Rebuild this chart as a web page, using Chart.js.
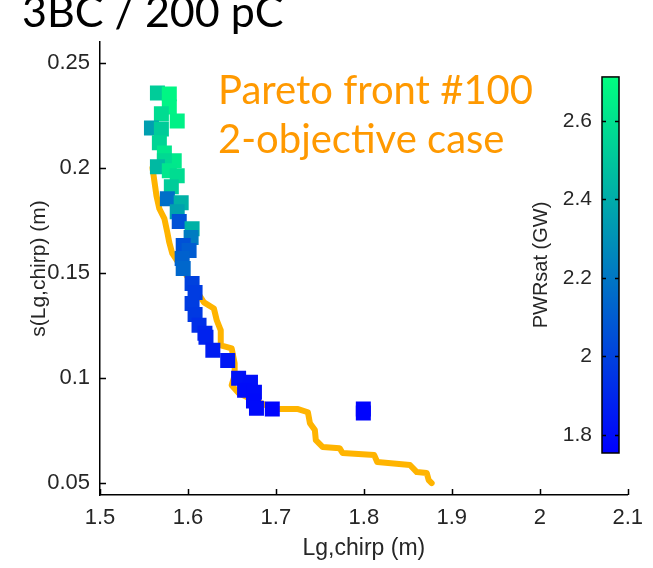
<!DOCTYPE html>
<html lang="en">
<head>
<meta charset="UTF-8">
<meta name="viewport" content="width=device-width, initial-scale=1.0">
<title>3BC / 200 pC - Pareto front #100</title>
<style>
    * {
        margin: 0;
        padding: 0;
        box-sizing: border-box;
    }

    body {
        background: #fff;
        width: 653px;
        height: 568px;
        overflow: hidden;
    }

    .wrap {
        position: relative;
        width: 653px;
        height: 568px;
    }

    .wrap canvas {
        position: absolute;
        left: 0;
        top: 0;
    }

    .caption {
        position: absolute;
        left: 22px;
        top: -14px;
        font-family: 'Lato', sans-serif;
        font-size: 43px;
        line-height: 50px;
        color: #000;
        white-space: nowrap;
    }

    .note {
        position: absolute;
        left: 218px;
        top: 65px;
        font-family: 'Lato', sans-serif;
        font-size: 40px;
        line-height: 49px;
        color: #ff9900;
        white-space: nowrap;
    }
</style>
</head>
<body>
<div class="wrap">
    <canvas id="chart"></canvas>
    <div class="caption">3BC / 200 pC</div>
    <div class="note">Pareto front #100<br>2-objective case</div>
</div>

<script src="https://cdn.jsdelivr.net/npm/chart.js"></script>
<script>
    // axis ticks
    const xTicks = [1.5, 1.6, 1.7, 1.8, 1.9, 2.0, 2.1];
    const xTickLabels = ['1.5', '1.6', '1.7', '1.8', '1.9', '2', '2.1'];
    const yTicks = [0.05, 0.1, 0.15, 0.2, 0.25];
    const yTickLabels = ['0.05', '0.1', '0.15', '0.2', '0.25'];
    const cbTicks = [1.8, 2.0, 2.2, 2.4, 2.6];
    const cbTickLabels = ['1.8', '2', '2.2', '2.4', '2.6'];

    // colour limits of PWRsat (GW)
    const cLim = [1.754, 2.712];

    // solutions: Lg,chirp (m), s(Lg,chirp) (m), PWRsat (GW)
    const lgChirp = [
        1.5653, 1.5788, 1.5788, 1.5698, 1.5878, 1.5585, 1.5698, 1.5675, 1.5732, 1.5844,
        1.5732, 1.5653, 1.5788, 1.5878, 1.5811, 1.5766, 1.5923, 1.5878, 1.5901, 1.6047,
        1.6036, 1.5946, 1.6013, 1.5934, 1.5946, 1.6047, 1.6081, 1.6047, 1.6081, 1.6126,
        1.6193, 1.6205, 1.6283, 1.6452, 1.6576, 1.6711, 1.6644, 1.6756, 1.6745, 1.6779,
        1.6959, 1.7994, 1.7994
    ];
    const sigmaLg = [
        0.2357, 0.2353, 0.2291, 0.2258, 0.2224, 0.2191, 0.2186, 0.2120, 0.2072, 0.2035,
        0.2035, 0.2006, 0.1987, 0.1963, 0.1911, 0.1854, 0.1835, 0.1792, 0.1745, 0.1711,
        0.1669, 0.1631, 0.1607, 0.1569, 0.1521, 0.1450, 0.1407, 0.1355, 0.1303, 0.1251,
        0.1213, 0.1194, 0.1132, 0.1084, 0.0999, 0.0980, 0.0942, 0.0932, 0.0890, 0.0856,
        0.0852, 0.0852, 0.0834
    ];
    const pwrSat = [
        2.52, 2.68, 2.67, 2.58, 2.66, 2.35, 2.52, 2.55, 2.62, 2.63,
        2.57, 2.45, 2.62, 2.58, 2.52, 2.17, 2.42, 2.36, 2.06, 2.42,
        2.22, 2.06, 2.10, 2.12, 2.14, 2.00, 1.98, 1.98, 1.97, 1.93,
        1.90, 1.88, 1.86, 1.84, 1.82, 1.81, 1.80, 1.80, 1.79, 1.79,
        1.77, 1.77, 1.77
    ];

    // pareto front #100
    const frontLg = [
        1.5597, 1.5642, 1.5675, 1.5732, 1.5766, 1.5788, 1.5822, 1.6182, 1.6295, 1.6328,
        1.6373, 1.6373, 1.6497, 1.6531, 1.6531, 1.6497, 1.6576, 1.6745, 1.6914, 1.7026,
        1.7252, 1.7364, 1.7387, 1.7443, 1.7454, 1.7533, 1.7724, 1.7758, 1.8118, 1.8152,
        1.8524, 1.8602, 1.8715, 1.8737, 1.8771
    ];
    const frontSigma = [
        0.2000, 0.1868, 0.1806, 0.1759, 0.1692, 0.1645, 0.1593, 0.1360, 0.1331, 0.1274,
        0.1227, 0.1156, 0.1141, 0.1070, 0.1013, 0.0966, 0.0928, 0.0894, 0.0866, 0.0852,
        0.0852, 0.0837, 0.0785, 0.0752, 0.0704, 0.0671, 0.0666, 0.0643, 0.0633, 0.0600,
        0.0586, 0.0552, 0.0548, 0.0514, 0.0500
    ];

    const fontFamily = "'Liberation Sans', Arial, sans-serif";
    const tickFont = { family: fontFamily, size: 22 };
    const textColor = '#262626';

    // matlab "winter" colormap
    function winter(v) {
        let t = (v - cLim[0]) / (cLim[1] - cLim[0]);
        t = Math.min(1, Math.max(0, t));
        return 'rgb(0,' + Math.round(255 * t) + ',' + Math.round(255 * (1 - 0.5 * t)) + ')';
    }

    // inward tick marks and the colorbar
    const axisExtras = {
        id: 'axisExtras',
        afterDraw(chart) {
            const ctx = chart.ctx;
            const x = chart.scales.x;
            const y = chart.scales.y;
            const cb = chart.scales.cb;

            ctx.save();
            ctx.strokeStyle = '#000';
            ctx.lineWidth = 1.5;
            ctx.beginPath();
            xTicks.forEach(v => {
                const px = Math.round(x.getPixelForValue(v)) + 0.5;
                ctx.moveTo(px, x.top);
                ctx.lineTo(px, x.top - 6);
            });
            yTicks.forEach(v => {
                const py = Math.round(y.getPixelForValue(v)) + 0.5;
                ctx.moveTo(y.right, py);
                ctx.lineTo(y.right + 6, py);
            });
            ctx.stroke();

            // colorbar
            const left = 602, right = 619;
            const top = cb.getPixelForValue(cLim[1]);
            const bottom = cb.getPixelForValue(cLim[0]);
            const grad = ctx.createLinearGradient(0, bottom, 0, top);
            grad.addColorStop(0, winter(cLim[0]));
            grad.addColorStop(1, winter(cLim[1]));
            ctx.fillStyle = grad;
            ctx.fillRect(left, top, right - left, bottom - top);
            ctx.strokeRect(left, top, right - left, bottom - top);

            ctx.beginPath();
            cbTicks.forEach(v => {
                const py = Math.round(cb.getPixelForValue(v)) + 0.5;
                ctx.moveTo(left, py);
                ctx.lineTo(left + 4, py);
                ctx.moveTo(right, py);
                ctx.lineTo(right - 4, py);
            });
            ctx.stroke();

            ctx.fillStyle = textColor;
            ctx.font = '21px ' + fontFamily;
            ctx.textAlign = 'right';
            ctx.textBaseline = 'middle';
            cbTicks.forEach((v, i) => {
                ctx.fillText(cbTickLabels[i], left - 10, cb.getPixelForValue(v));
            });

            ctx.translate(541, (top + bottom) / 2);
            ctx.rotate(-Math.PI / 2);
            ctx.textAlign = 'center';
            ctx.font = '20px ' + fontFamily;
            ctx.fillText('PWRsat (GW)', 0, 0);
            ctx.restore();
        }
    };

    new Chart(document.getElementById('chart'), {
        type: 'scatter',
        data: {
            datasets: [
                {
                    label: 'Pareto front #100',
                    type: 'line',
                    data: frontLg.map((v, i) => ({ x: v, y: frontSigma[i] })),
                    borderColor: '#ffb400',
                    borderWidth: 6,
                    borderJoinStyle: 'round',
                    borderCapStyle: 'round',
                    pointRadius: 0,
                    fill: false,
                    tension: 0,
                    order: 2
                },
                {
                    label: 'PWRsat',
                    data: lgChirp.map((v, i) => ({ x: v, y: sigmaLg[i] })),
                    pointStyle: 'rect',
                    pointRadius: 10.6,
                    pointHoverRadius: 10.6,
                    backgroundColor: pwrSat.map(winter),
                    borderWidth: 0,
                    order: 1
                }
            ]
        },
        options: {
            responsive: true,
            maintainAspectRatio: false,
            animation: false,
            layout: { padding: { top: 42, right: 17, left: 0, bottom: 0 } },
            plugins: {
                legend: { display: false },
                tooltip: { enabled: false }
            },
            scales: {
                x: {
                    type: 'linear',
                    min: 1.5,
                    max: 2.1,
                    afterBuildTicks: s => { s.ticks = xTicks.map(v => ({ value: v })); },
                    afterFit: s => { s.height = 73; },
                    ticks: {
                        callback: (v, i) => xTickLabels[i],
                        font: tickFont,
                        color: textColor,
                        padding: 10,
                        maxRotation: 0,
                        autoSkip: false
                    },
                    grid: { display: false, drawTicks: false },
                    border: { display: true, color: '#000', width: 1.5 },
                    title: {
                        display: true,
                        text: 'Lg,chirp (m)',
                        font: { family: fontFamily, size: 23 },
                        color: textColor,
                        padding: { top: 0, bottom: 6 }
                    }
                },
                y: {
                    type: 'linear',
                    min: 0.0443,
                    max: 0.26,
                    afterBuildTicks: s => { s.ticks = yTicks.map(v => ({ value: v })); },
                    afterFit: s => { s.width = 100; },
                    ticks: {
                        callback: (v, i) => yTickLabels[i],
                        font: tickFont,
                        color: textColor,
                        padding: 10,
                        autoSkip: false
                    },
                    grid: { display: false, drawTicks: false },
                    border: { display: true, color: '#000', width: 1.5 },
                    title: {
                        display: true,
                        text: 's(Lg,chirp) (m)',
                        font: { family: fontFamily, size: 21 },
                        color: textColor,
                        padding: { top: 27, bottom: 0 }
                    }
                },
                cb: {
                    type: 'linear',
                    position: 'right',
                    display: false,
                    min: 1.647,
                    max: 2.801
                }
            }
        },
        plugins: [axisExtras]
    });
</script>
</body>
</html>
